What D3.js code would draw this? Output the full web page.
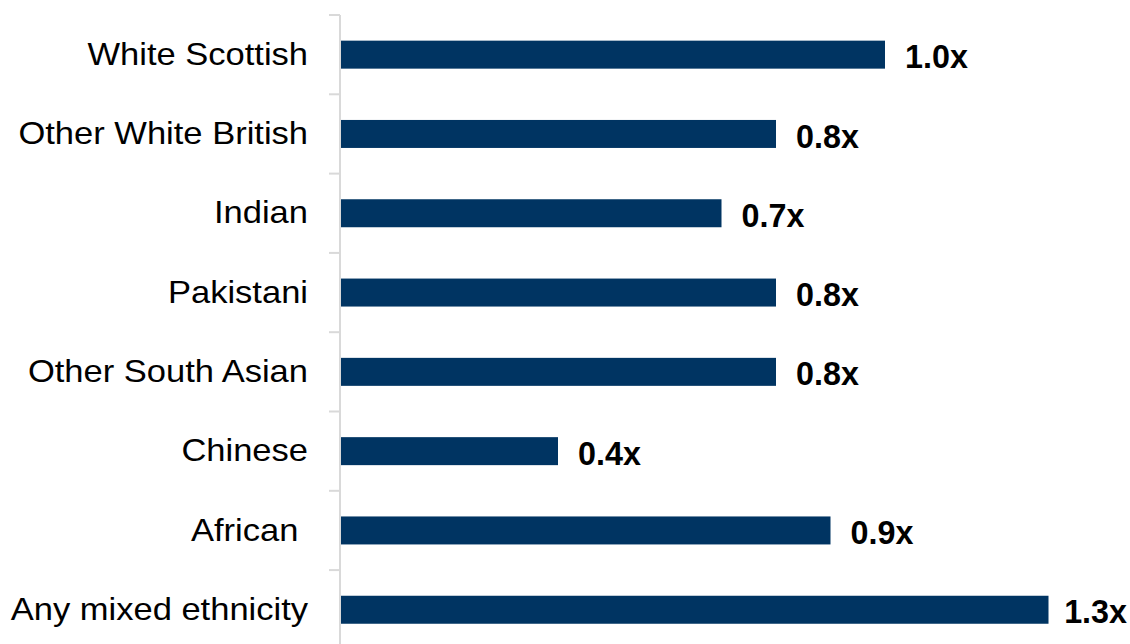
<!DOCTYPE html>
<html><head><meta charset="utf-8">
<script src="https://cdn.jsdelivr.net/npm/d3@7"></script>
<style>
html,body{margin:0;padding:0;background:#fff;}
svg{display:block;}
text{font-family:"Liberation Sans",Arial,sans-serif;}
</style></head>
<body>
<script>
const categories = ["White Scottish","Other White British","Indian","Pakistani","Other South Asian","Chinese","African ","Any mixed ethnicity"];
const values = [1.0, 0.8, 0.7, 0.8, 0.8, 0.4, 0.9, 1.3];
const valueLabels = ["1.0x","0.8x","0.7x","0.8x","0.8x","0.4x","0.9x","1.3x"];

const W = 1130, H = 644;
const axisX = 340, topY = 15, step = 79.3;
const stretch = 1.096;
const svg = d3.select("body").append("svg").attr("width", W).attr("height", H);

const x = d3.scaleLinear().domain([0, 1]).range([axisX, axisX + 545]);
const y = d3.scaleBand().domain(categories).range([topY, topY + step * categories.length]).paddingInner(0.647).paddingOuter(0.3235);

// category labels
const yAxis = d3.axisLeft(y).tickSize(0).tickPadding(0);
const gA = svg.append("g").attr("transform", `translate(${axisX},0)`).call(yAxis);
gA.select(".domain").remove();
gA.selectAll("text")
  .attr("x", -32 / stretch)
  .attr("transform", `scale(${stretch},1)`)
  .attr("font-size", 31.5).attr("fill", "#000")
  .attr("font-family", '"Liberation Sans",Arial,sans-serif')
  .style("white-space", "pre").attr("dy", "0.32em");

// axis line and boundary ticks
const bounds = d3.range(categories.length + 1).map(i => topY + i * step);
svg.append("line").attr("x1", axisX).attr("x2", axisX).attr("y1", topY).attr("y2", H + 10).attr("stroke", "#d9d9d9").attr("stroke-width", 2);
svg.selectAll(".tk").data(bounds).join("line").attr("class","tk")
  .attr("x1", axisX - 11).attr("x2", axisX).attr("y1", d => d).attr("y2", d => d)
  .attr("stroke", "#d9d9d9").attr("stroke-width", 2);

// bars
svg.selectAll(".bar").data(categories).join("rect").attr("class","bar")
  .attr("x", x(0) + 1).attr("y", d => y(d))
  .attr("width", (d, i) => x(values[i]) - x(0) - 1)
  .attr("height", y.bandwidth())
  .attr("fill", "#003462");

// value labels (kept inside the canvas)
svg.selectAll(".val").data(categories).join("text").attr("class","val")
  .attr("y", d => y(d) + y.bandwidth() / 2)
  .attr("dy", "0.42em")
  .attr("font-size", 32.3).attr("font-weight", "bold").attr("fill", "#000")
  .text((d, i) => valueLabels[i])
  .attr("x", function(d, i) {
    const w = this.getComputedTextLength();
    return Math.min(x(values[i]) + 20, W - 3 - w);
  });
</script>
</body></html>
